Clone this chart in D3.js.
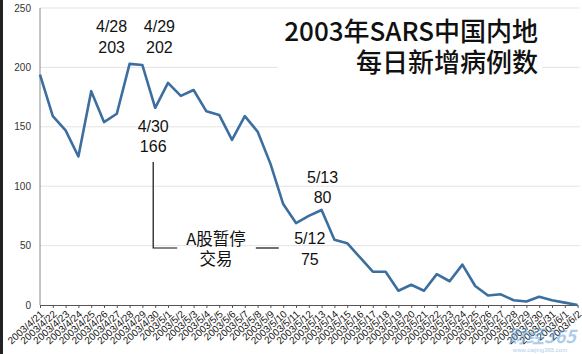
<!DOCTYPE html>
<html><head><meta charset="utf-8">
<script src="https://cdn.jsdelivr.net/npm/d3@7"></script>
<style>
html,body{margin:0;padding:0;background:#fff;}
svg{display:block;}
</style></head>
<body>
<script>
const dates = ["2003/4/21","2003/4/22","2003/4/23","2003/4/24","2003/4/25","2003/4/26","2003/4/27","2003/4/28","2003/4/29","2003/4/30",
"2003/5/1","2003/5/2","2003/5/3","2003/5/4","2003/5/5","2003/5/6","2003/5/7","2003/5/8","2003/5/9","2003/5/10",
"2003/5/11","2003/5/12","2003/5/13","2003/5/14","2003/5/15","2003/5/16","2003/5/17","2003/5/18","2003/5/19","2003/5/20",
"2003/5/21","2003/5/22","2003/5/23","2003/5/24","2003/5/25","2003/5/26","2003/5/27","2003/5/28","2003/5/29","2003/5/30",
"2003/5/31","2003/6/1","2003/6/2"];
const cases = [194,159,147,125,180,154,161,203,202,166,
187,176,181,163,160,139,159,146,119,85,
69,75,80,55,52,40,28,28,12,17,
12,26,20,34,16,8,9,4,3,7,
4,2,0];
const yTicks = [0,50,100,150,200,250];
const titleLines = ["2003年SARS中国内地","每日新增病例数"];
const callouts = [
  {date:"2003/4/28", lines:["4/28","203"], dx:-18, y1:32, y2:53},
  {date:"2003/4/29", lines:["4/29","202"], dx:17, y1:32, y2:53},
  {date:"2003/4/30", lines:["4/30","166"], dx:-2, y1:132, y2:152},
  {date:"2003/5/13", lines:["5/13","80"], dx:1, y1:183, y2:203},
  {date:"2003/5/12", lines:["5/12","75"], dx:1, y1:244, y2:265}
];
const haltText = ["A股暂停","交易"];

const W = 582, H = 354;
const svg = d3.select("body").append("svg").attr("width",W).attr("height",H);
const m = {l:40, r:4.4, t:8, b:49};
const x = d3.scalePoint().domain(dates).range([m.l, W - m.r]);
const y = d3.scaleLinear().domain([0,250]).range([H - m.b, m.t]);

// left dark border
svg.append("rect").attr("x",0).attr("y",0).attr("width",3).attr("height",H).attr("fill","#222");

// gridlines
svg.append("g").selectAll("line").data(yTicks.filter(d=>d>0)).join("line")
  .attr("x1",m.l).attr("x2",W - m.r + 2).attr("y1",d=>y(d)).attr("y2",d=>y(d))
  .attr("stroke","#e4e4e4").attr("stroke-width",1);

// y labels
svg.append("g").selectAll("text").data(yTicks).join("text")
  .attr("x",31).attr("y",d=>y(d)+3.5).attr("text-anchor","end")
  .attr("font-family","Liberation Sans, Arial, sans-serif").attr("font-size",10).attr("fill","#333")
  .text(d=>d);

// y axis line
svg.append("line").attr("x1",m.l).attr("x2",m.l).attr("y1",y(250)).attr("y2",y(0))
  .attr("stroke","#888").attr("stroke-width",1);

// x axis
const xAxis = d3.axisBottom(x).tickSize(3).tickSizeOuter(0);
const gx = svg.append("g").attr("transform",`translate(0,${y(0)})`).call(xAxis);
gx.select(".domain").attr("stroke","#555");
gx.selectAll(".tick line").attr("stroke","#555");
gx.selectAll(".tick text")
  .attr("font-family","Liberation Sans, Arial, sans-serif").attr("font-size",10).attr("fill","#111")
  .attr("text-anchor","end").attr("dy",0).attr("dx",0).attr("y",0)
  .attr("transform","translate(4,10) rotate(-42)");

// title with white background
const tg = svg.append("g");
tg.append("rect").attr("x",278).attr("y",14).attr("width",264).attr("height",66).attr("fill","#fff");
tg.selectAll("text").data(titleLines).join("text")
  .attr("x",538).attr("y",(d,i)=>41 + i*31).attr("text-anchor","end")
  .attr("font-family","Noto Sans CJK SC, sans-serif").attr("font-size",26).attr("font-weight",500).attr("fill","#111")
  .text(d=>d);

// line
const line = d3.line().x((d,i)=>x(dates[i])).y(d=>y(d));
svg.append("path").datum(cases).attr("d",line)
  .attr("fill","none").attr("stroke","#3c6e9f").attr("stroke-width",2.6).attr("stroke-linejoin","round");

// callouts
const cg = svg.append("g").attr("font-family","Liberation Sans, Arial, sans-serif").attr("font-size",16).attr("fill","#111").attr("text-anchor","middle");
callouts.forEach(c=>{
  const cx = x(c.date) + c.dx;
  cg.append("text").attr("x",cx).attr("y",c.y1).text(c.lines[0]);
  cg.append("text").attr("x",cx).attr("y",c.y2).text(c.lines[1]);
});

// trading halt bracket
const bx = x("2003/4/30") - 2;
const by = 248;
svg.append("path").attr("d",`M${bx},162 V${by} H${bx+24}`).attr("fill","none").attr("stroke","#111").attr("stroke-width",1.2);
const ex = x("2003/5/12") + 1;
svg.append("line").attr("x1",ex-54).attr("x2",ex-31).attr("y1",by).attr("y2",by).attr("stroke","#111").attr("stroke-width",1.2);
svg.append("g").attr("font-family","Noto Sans CJK SC, sans-serif").attr("font-size",16.5).attr("fill","#111").attr("text-anchor","middle")
  .selectAll("text").data(haltText).join("text")
  .attr("x",216).attr("y",(d,i)=>245 + i*20).text(d=>d);

// watermark
const wm = svg.append("g").attr("opacity",0.5);
wm.append("text").attr("x",542).attr("y",343).attr("text-anchor","middle")
  .attr("font-family","Noto Sans CJK SC, sans-serif").attr("font-size",18).attr("font-weight","bold").attr("font-style","italic").attr("fill","#5b9bd5")
  .text("财经365");
wm.append("text").attr("x",540).attr("y",352).attr("text-anchor","middle")
  .attr("font-family","Liberation Sans, sans-serif").attr("font-size",6).attr("fill","#5b9bd5")
  .text("www.caijing365.com");
</script>
</body></html>
